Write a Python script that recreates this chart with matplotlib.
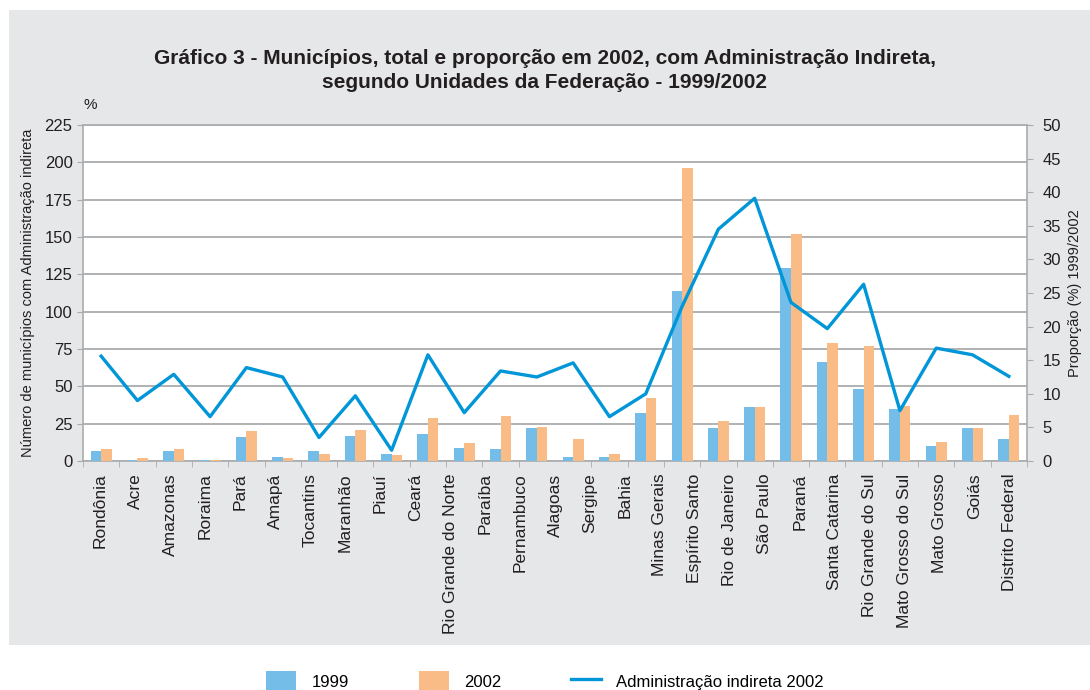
import matplotlib
matplotlib.use("Agg")
import matplotlib.pyplot as plt
from matplotlib.patches import Rectangle, Patch
from matplotlib.lines import Line2D
import numpy as np

plt.rcParams['font.family'] = ['Liberation Sans', 'DejaVu Sans']

# Unidades da Federação (labels along the x axis)
ufs = ["Rondônia", "Acre", "Amazonas", "Roraima", "Pará", "Amapá", "Tocantins",
       "Maranhão", "Piauí", "Ceará", "Rio Grande do Norte", "Paraíba",
       "Pernambuco", "Alagoas", "Sergipe", "Bahia", "Minas Gerais",
       "Espírito Santo", "Rio de Janeiro", "São Paulo", "Paraná",
       "Santa Catarina", "Rio Grande do Sul", "Mato Grosso do Sul",
       "Mato Grosso", "Goiás", "Distrito Federal"]

# bar groups as drawn in the original (26 groups)
mun_1999 = [7, 1, 7, 1, 16, 3, 7, 17, 5, 18, 9, 8, 22, 3, 3, 32, 114, 22, 36,
            129, 66, 48, 35, 10, 22, 15]
mun_2002 = [8, 2, 8, 1, 20, 2, 5, 21, 4, 29, 12, 30, 23, 15, 5, 42, 196, 27, 36,
            152, 79, 77, 37, 13, 22, 31]
prop_2002 = [15.6, 9.0, 12.9, 6.6, 13.9, 12.5, 3.5, 9.7, 1.6, 15.8, 7.2, 13.4,
             12.5, 14.6, 6.6, 10.0, 23.0, 34.5, 39.1, 23.6, 19.7, 26.3, 7.5,
             16.8, 15.8, 12.6]

c1999 = "#74bde8"
c2002 = "#f9bc86"
cline = "#0096d8"
grey = "#a9abad"
txt = "#231f20"

fig = plt.figure(figsize=(10.9, 6.9), dpi=100)
fig.patches.append(Rectangle((9 / 1090, 1 - 645 / 690), 1, 635 / 690,
                             transform=fig.transFigure, facecolor="#e6e7e8",
                             edgecolor="none", zorder=-10))

ax = fig.add_axes([83 / 1090, 1 - 461 / 690, 944 / 1090, 336 / 690])
ax.set_facecolor("white")
n = len(mun_1999)
x = np.arange(n) + 0.5
w = 0.29
ax.bar(x - w / 2, mun_1999, width=w, color=c1999, zorder=3)
ax.bar(x + w / 2, mun_2002, width=w, color=c2002, zorder=3)
ax.set_xlim(0, n)
ax.set_ylim(0, 225)
ax.set_yticks(np.arange(0, 226, 25))
ax.yaxis.grid(True, color=grey, linewidth=1.3, zorder=0)
for s in ax.spines.values():
    s.set_color(grey)
    s.set_linewidth(1.2)

# labels are spread over 27 slots, tick marks over the 26 groups
lab_pos = (np.arange(len(ufs)) + 0.5) * n / len(ufs)
ax.set_xticks(lab_pos)
ax.set_xticklabels(ufs, rotation=90, fontsize=12.5, color=txt)
ax.tick_params(axis='x', which='major', length=0, pad=9)
ax.set_xticks(np.arange(n + 1), minor=True)
ax.tick_params(axis='x', which='minor', length=4, color=grey)
ax.tick_params(axis='y', length=4, color=grey, labelsize=12, labelcolor=txt)
ax.set_ylabel("Número de municípios com Administração indireta", fontsize=10.5,
              color=txt, labelpad=7)

ax2 = ax.twinx()
ax2.plot(x, prop_2002, color=cline, linewidth=2.4, zorder=5)
ax2.set_ylim(0, 50)
ax2.set_yticks(np.arange(0, 51, 5))
ax2.tick_params(axis='y', length=4, color=grey, labelsize=12, labelcolor=txt, pad=7)
for s in ax2.spines.values():
    s.set_visible(False)
ax2.set_ylabel("Proporção (%) 1999/2002", fontsize=10.5, color=txt, labelpad=5)

fig.text(90 / 1090, 1 - 105 / 690, "%", fontsize=11, color=txt, ha="center", va="center")

fig.text(0.5, 1 - 58 / 690,
         "Gráfico 3 - Municípios, total e proporção em 2002, com Administração Indireta,",
         fontsize=15, fontweight="bold", color=txt, ha="center", va="center")
fig.text(0.5, 1 - 83 / 690, "segundo Unidades da Federação - 1999/2002",
         fontsize=15, fontweight="bold", color=txt, ha="center", va="center")

handles = [Patch(facecolor=c1999, edgecolor="none"),
           Patch(facecolor=c2002, edgecolor="none"),
           Line2D([0], [0], color=cline, linewidth=2.4)]
fig.legend(handles, ["1999", "2002", "Administração indireta 2002"], loc="center",
           bbox_to_anchor=(0.5, 1 - 681 / 690), ncol=3, frameon=False, fontsize=12,
           handlelength=1.8, handleheight=1.4, columnspacing=4.2, handletextpad=0.9)

fig.savefig("out.png", dpi=100)
